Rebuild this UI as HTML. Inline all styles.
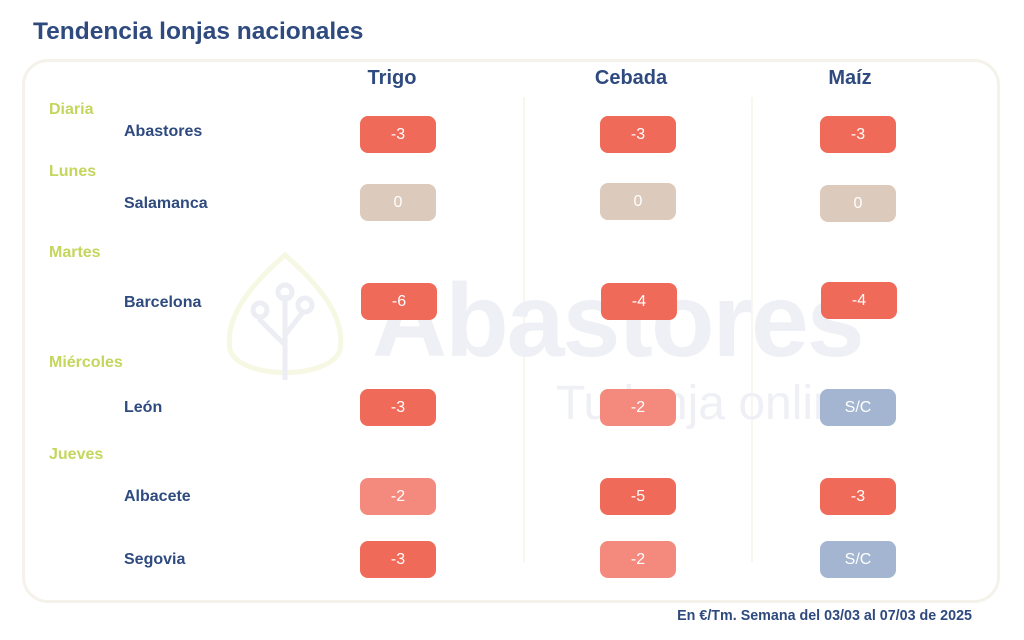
<!DOCTYPE html>
<html><head><meta charset="utf-8"><style>
body{margin:0;width:1024px;height:640px;background:#fff;font-family:"Liberation Sans",sans-serif;position:relative;overflow:hidden}
.a{position:absolute;white-space:nowrap}
.t{left:33px;top:18px;font-size:24.5px;font-weight:bold;color:#2e4a7e}
.box{position:absolute;left:22px;top:59px;width:972px;height:538px;border:3px solid #f4f2ea;border-radius:26px}
.h{font-size:20px;font-weight:bold;color:#2e4a7e;transform:translateX(-50%)}
.d{left:49px;font-size:16px;font-weight:bold;color:#c4d65c}
.n{left:124px;font-size:16px;font-weight:bold;color:#2e4a7e}
.p{width:76px;height:37px;border-radius:8px;color:#fff;font-size:16px;text-align:center;line-height:37px}
.r{background:#f06a5a}.l{background:#f38a7d}.b{background:#dccbbd}.g{background:#a3b5d0}
.v{position:absolute;top:97px;width:2px;height:465px;background:#f7f6ef}
</style></head><body>
<div class="a t">Tendencia lonjas nacionales</div>
<div class="box"></div>
<div class="v" style="left:523px"></div><div class="v" style="left:751px"></div>
<svg class="a" style="left:215px;top:250px" width="140" height="140"><g fill="none" stroke="#f6f8e4" stroke-width="5"><path d="M70 5 C30 40 10 70 15 100 C25 130 115 130 125 100 C130 70 110 40 70 5Z"/></g><g fill="none" stroke="#eceef4" stroke-width="5"><path d="M70 130 V45 M70 95 L45 70 V65 M70 85 L88 62"/><circle cx="70" cy="42" r="7"/><circle cx="45" cy="60" r="7"/><circle cx="90" cy="55" r="7"/></g></svg>
<div class="a" style="left:372px;top:262px;font-size:104px;font-weight:bold;color:#eef0f5;letter-spacing:-2px">Abastores</div>
<div class="a" style="left:556px;top:376px;font-size:48px;color:#eef0f5">Tu lonja online</div>
<div class="a h" style="left:392px;top:67px">Trigo</div>
<div class="a h" style="left:631px;top:67px">Cebada</div>
<div class="a h" style="left:850px;top:67px">Maíz</div>
<div class="a d" style="top:101px">Diaria</div>
<div class="a d" style="top:163px">Lunes</div>
<div class="a d" style="top:244px">Martes</div>
<div class="a d" style="top:354px">Miércoles</div>
<div class="a d" style="top:446px">Jueves</div>
<div class="a n" style="top:123px">Abastores</div>
<div class="a n" style="top:195px">Salamanca</div>
<div class="a n" style="top:294px">Barcelona</div>
<div class="a n" style="top:399px">León</div>
<div class="a n" style="top:488px">Albacete</div>
<div class="a n" style="top:551px">Segovia</div>
<div class="a p r" style="left:360px;top:116px">-3</div>
<div class="a p r" style="left:600px;top:116px">-3</div>
<div class="a p r" style="left:820px;top:116px">-3</div>
<div class="a p b" style="left:360px;top:184px">0</div>
<div class="a p b" style="left:600px;top:183px">0</div>
<div class="a p b" style="left:820px;top:185px">0</div>
<div class="a p r" style="left:361px;top:283px">-6</div>
<div class="a p r" style="left:601px;top:283px">-4</div>
<div class="a p r" style="left:821px;top:282px">-4</div>
<div class="a p r" style="left:360px;top:389px">-3</div>
<div class="a p l" style="left:600px;top:389px">-2</div>
<div class="a p g" style="left:820px;top:389px">S/C</div>
<div class="a p l" style="left:360px;top:478px">-2</div>
<div class="a p r" style="left:600px;top:478px">-5</div>
<div class="a p r" style="left:820px;top:478px">-3</div>
<div class="a p r" style="left:360px;top:541px">-3</div>
<div class="a p l" style="left:600px;top:541px">-2</div>
<div class="a p g" style="left:820px;top:541px">S/C</div>
<div class="a" style="right:52px;top:608px;font-size:14.3px;font-weight:bold;color:#2e4a7e">En €/Tm. Semana del 03/03 al 07/03 de 2025</div>
</body></html>
